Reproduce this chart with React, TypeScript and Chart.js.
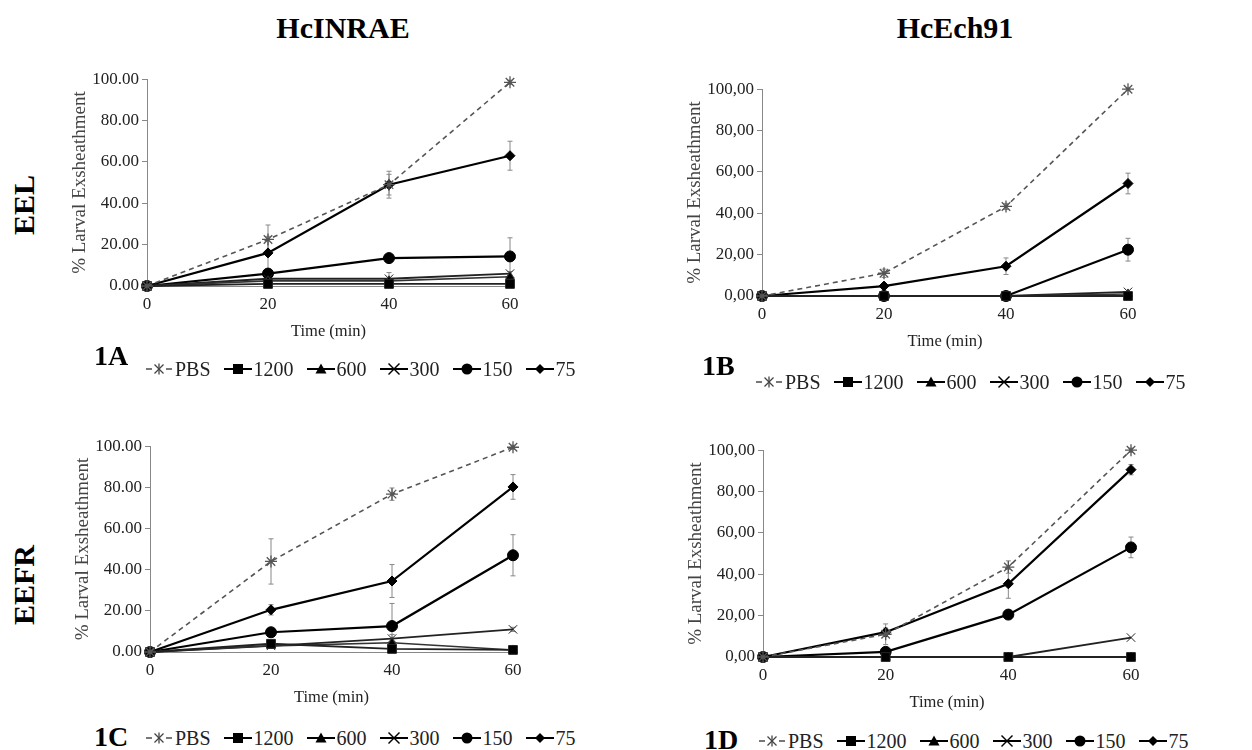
import React, { useEffect, useRef } from "react";
import { Chart, registerables } from "chart.js";

Chart.register(...registerables);

// ---------- data ----------
const TIMES = [0, 20, 40, 60];
const SERIES_NAMES = ["PBS", "1200", "600", "300", "150", "75"];
const X_TICK_STEP = 20;
const Y_TICK_STEP = 20;

// 1A  HcINRAE / EEL
const A_PBS = [0, 22.5, 49, 98.5];
const A_1200 = [0, 1, 1, 1];
const A_600 = [0, 2.5, 2.5, 4.5];
const A_300 = [0, 3.5, 3.5, 6];
const A_150 = [0, 6, 13.5, 14.3];
const A_75 = [0, 16, 49, 63];
const A_ERR_PBS = [1.5, 7, 6.5, 1];
const A_ERR_300 = [0, 1, 3, 1];
const A_ERR_150 = [0, 2, 1, 9];
const A_ERR_75 = [0, 8, 5, 7];

// 1B  HcEch91 / EEL
const B_PBS = [0, 11, 43.3, 100];
const B_1200 = [0, 0, 0, 0];
const B_600 = [0, 0, 0, 1];
const B_300 = [0, 0, 0, 2];
const B_150 = [0, 0, 0, 22.4];
const B_75 = [0, 4.8, 14.4, 54.4];
const B_ERR_PBS = [0, 2, 1.5, 0.5];
const B_ERR_150 = [0, 0, 0, 5.5];
const B_ERR_75 = [0, 1, 4, 5];

// 1C  HcINRAE / EEFR
const C_PBS = [0, 44, 76.7, 99.5];
const C_1200 = [0, 4, 1.5, 1];
const C_600 = [0, 3, 4.5, 1];
const C_300 = [0, 3, 6.5, 11];
const C_150 = [0, 9.6, 12.6, 47];
const C_75 = [0, 20.5, 34.5, 80.2];
const C_ERR_PBS = [1.5, 11, 3, 1];
const C_ERR_300 = [0, 1, 2, 1];
const C_ERR_150 = [0, 1, 11, 10];
const C_ERR_75 = [0, 2.5, 8, 6];

// 1D  HcEch91 / EEFR
const D_PBS = [0, 11, 43.5, 100];
const D_1200 = [0, 0, 0, 0];
const D_600 = [0, 0, 0, 0];
const D_300 = [0, 0, 0, 9.4];
const D_150 = [0, 2.5, 20.5, 53];
const D_75 = [0, 12, 35.4, 90.6];
const D_ERR_PBS = [0, 5, 3, 1];
const D_ERR_150 = [0, 1, 1, 5];
const D_ERR_75 = [0, 2, 7, 2.5];

const NONE = [0, 0, 0, 0];

// ---------- styles ----------
const FONT = "'Liberation Serif', 'Times New Roman', serif";

type St = { color: string; width: number; dash: number[]; point: any; radius: number; fill: string };
const STYLES: St[] = [
  { color: "#555", width: 1.6, dash: [5, 4], point: "star", radius: 6, fill: "#555" },
  { color: "#222", width: 1.8, dash: [], point: "rect", radius: 6.2, fill: "#000" },
  { color: "#333", width: 1.6, dash: [], point: "triangle", radius: 5, fill: "#000" },
  { color: "#222", width: 1.8, dash: [], point: "crossRot", radius: 6, fill: "#000" },
  { color: "#000", width: 2.2, dash: [], point: "circle", radius: 5.5, fill: "#000" },
  { color: "#000", width: 2.2, dash: [], point: "rectRot", radius: 5, fill: "#000" },
];

const errorBarsPlugin = {
  id: "errorBars",
  beforeDatasetsDraw(chart: any) {
    const { ctx } = chart;
    const yScale = chart.scales.y;
    ctx.save();
    ctx.strokeStyle = "#888";
    ctx.lineWidth = 1;
    chart.data.datasets.forEach((ds: any, i: number) => {
      const err: number[] | undefined = ds.errors;
      if (!err) return;
      const meta = chart.getDatasetMeta(i);
      meta.data.forEach((pt: any, j: number) => {
        const e = err[j];
        if (!e) return;
        const v = ds.data[j].y;
        const x = pt.x;
        const yt = yScale.getPixelForValue(v + e);
        const yb = yScale.getPixelForValue(v - e);
        ctx.beginPath();
        ctx.moveTo(x, yt);
        ctx.lineTo(x, yb);
        ctx.moveTo(x - 2.5, yt);
        ctx.lineTo(x + 2.5, yt);
        ctx.moveTo(x - 2.5, yb);
        ctx.lineTo(x + 2.5, yb);
        ctx.stroke();
      });
    });
    ctx.restore();
  },
};

type PanelProps = {
  left: number;
  top: number;
  width: number;
  height: number;
  values: number[][];
  errors: number[][];
  comma: boolean;
};

function Panel({ left, top, width, height, values, errors, comma }: PanelProps) {
  const ref = useRef<HTMLCanvasElement | null>(null);
  useEffect(() => {
    if (!ref.current) return;
    const datasets = SERIES_NAMES.map((name, i) => ({
      label: name,
      data: TIMES.map((t, j) => ({ x: t, y: values[i][j] })),
      borderColor: STYLES[i].color,
      borderWidth: STYLES[i].width,
      borderDash: STYLES[i].dash,
      pointStyle: STYLES[i].point,
      pointRadius: STYLES[i].radius,
      pointBackgroundColor: STYLES[i].fill,
      pointBorderColor: STYLES[i].color,
      pointBorderWidth: i === 0 ? 1.3 : 1,
      tension: 0,
      clip: false,
      errors: errors[i],
    }));
    const chart = new Chart(ref.current, {
      type: "line",
      data: { datasets } as any,
      plugins: [errorBarsPlugin],
      options: {
        animation: false,
        responsive: false,
        maintainAspectRatio: false,
        devicePixelRatio: 1,
        layout: { padding: { top: 10, right: 20, left: 0, bottom: 0 } },
        plugins: { legend: { display: false }, tooltip: { enabled: false } },
        scales: {
          x: {
            type: "linear",
            min: 0,
            max: 60,
            ticks: { stepSize: X_TICK_STEP, font: { size: 17, family: FONT }, color: "#222", padding: 8 },
            grid: { display: true, drawOnChartArea: false, drawTicks: false, color: "#888" },
            border: { display: true, color: "#888", width: 1 },
            title: {
              display: true,
              text: "Time (min)",
              font: { size: 16.5, family: FONT },
              color: "#222",
              padding: { top: 4, bottom: 4 },
            },
            afterFit: (s: any) => {
              s.height = 60;
            },
          },
          y: {
            min: 0,
            max: 100,
            ticks: {
              stepSize: Y_TICK_STEP,
              font: { size: 17, family: FONT },
              color: "#222",
              padding: 3,
              callback: (v: any) => {
                const s = Number(v).toFixed(2);
                return comma ? s.replace(".", ",") : s;
              },
            },
            grid: { display: true, drawOnChartArea: false, drawTicks: true, tickLength: 5, color: "#888" },
            border: { display: true, color: "#888", width: 1 },
            title: {
              display: true,
              text: "% Larval Exsheathment",
              font: { size: 19, family: FONT },
              color: "#444",
              padding: { top: 4, bottom: 4 },
            },
            afterFit: (s: any) => {
              s.width = 82;
            },
          },
        },
      } as any,
    });
    return () => chart.destroy();
  }, []);
  return (
    <canvas
      ref={ref}
      width={width}
      height={height}
      style={{ position: "absolute", left, top, width, height }}
    />
  );
}

function Symbol({ index }: { index: number }) {
  const c = 14;
  const m = 9;
  if (index === 0) {
    return (
      <svg width={28} height={18} style={{ display: "block" }}>
        <line x1={1} y1={m} x2={7} y2={m} stroke="#555" strokeWidth={1.6} />
        <line x1={21} y1={m} x2={27} y2={m} stroke="#555" strokeWidth={1.6} />
        <line x1={c - 4.5} y1={m - 4.5} x2={c + 4.5} y2={m + 4.5} stroke="#444" strokeWidth={1.3} />
        <line x1={c - 4.5} y1={m + 4.5} x2={c + 4.5} y2={m - 4.5} stroke="#444" strokeWidth={1.3} />
        <line x1={c} y1={m - 5.5} x2={c} y2={m + 5.5} stroke="#444" strokeWidth={1.3} />
      </svg>
    );
  }
  let marker: any = null;
  if (index === 1) marker = <rect x={c - 5} y={m - 5} width={10} height={10} fill="#000" />;
  if (index === 2)
    marker = <polygon points={`${c},${m - 5.5} ${c + 5.5},${m + 4.5} ${c - 5.5},${m + 4.5}`} fill="#000" />;
  if (index === 3)
    marker = (
      <g stroke="#000" strokeWidth={1.4}>
        <line x1={c - 5.5} y1={m - 5.5} x2={c + 5.5} y2={m + 5.5} />
        <line x1={c - 5.5} y1={m + 5.5} x2={c + 5.5} y2={m - 5.5} />
      </g>
    );
  if (index === 4) marker = <circle cx={c} cy={m} r={5.5} fill="#000" />;
  if (index === 5)
    marker = <polygon points={`${c},${m - 5} ${c + 5},${m} ${c},${m + 5} ${c - 5},${m}`} fill="#000" />;
  return (
    <svg width={28} height={18} style={{ display: "block" }}>
      <line x1={0} y1={m} x2={28} y2={m} stroke="#000" strokeWidth={2} />
      {marker}
    </svg>
  );
}

function Legend({ left, cy }: { left: number; cy: number }) {
  return (
    <div
      style={{
        position: "absolute",
        left,
        top: cy,
        transform: "translateY(-50%)",
        display: "flex",
        alignItems: "center",
        fontFamily: FONT,
        fontSize: 20,
        color: "#222",
        whiteSpace: "nowrap",
        lineHeight: 1,
      }}
    >
      {SERIES_NAMES.map((n, i) => (
        <div key={n} style={{ display: "flex", alignItems: "center", marginRight: 13 }}>
          <Symbol index={i} />
          <span style={{ marginLeft: 2 }}>{n}</span>
        </div>
      ))}
    </div>
  );
}

function Label({
  text,
  x,
  y,
  size,
  rotate,
  anchorLeft,
}: {
  text: string;
  x: number;
  y: number;
  size: number;
  rotate?: boolean;
  anchorLeft?: boolean;
}) {
  return (
    <div
      style={{
        position: "absolute",
        left: x,
        top: y,
        transform: `translate(${anchorLeft ? "0" : "-50%"}, -50%)${rotate ? " rotate(-90deg)" : ""}`,
        fontFamily: FONT,
        fontWeight: "bold",
        fontSize: size,
        lineHeight: 1,
        whiteSpace: "nowrap",
        color: "#000",
      }}
    >
      {text}
    </div>
  );
}

export default function App() {
  return (
    <div style={{ position: "absolute", left: 0, top: 0, width: 1252, height: 750, background: "#fff", overflow: "hidden" }}>
      <Label text="HcINRAE" x={343} y={28} size={30} />
      <Label text="HcEch91" x={955} y={28} size={30} />
      <Label text="EEL" x={24} y={205} size={30} rotate />
      <Label text="EEFR" x={24} y={585} size={30} rotate />

      <Panel
        left={65}
        top={66}
        width={465}
        height={280}
        values={[A_PBS, A_1200, A_600, A_300, A_150, A_75]}
        errors={[A_ERR_PBS, NONE, NONE, A_ERR_300, A_ERR_150, A_ERR_75]}
        comma={false}
      />
      <Panel
        left={680}
        top={76}
        width={468}
        height={280}
        values={[B_PBS, B_1200, B_600, B_300, B_150, B_75]}
        errors={[B_ERR_PBS, NONE, NONE, NONE, B_ERR_150, B_ERR_75]}
        comma={true}
      />
      <Panel
        left={68}
        top={433}
        width={465}
        height={279}
        values={[C_PBS, C_1200, C_600, C_300, C_150, C_75]}
        errors={[C_ERR_PBS, NONE, NONE, C_ERR_300, C_ERR_150, C_ERR_75]}
        comma={false}
      />
      <Panel
        left={681}
        top={437}
        width={470}
        height={280}
        values={[D_PBS, D_1200, D_600, D_300, D_150, D_75]}
        errors={[D_ERR_PBS, NONE, NONE, NONE, D_ERR_150, D_ERR_75]}
        comma={true}
      />

      <Label text="1A" x={94} y={356} size={28} anchorLeft />
      <Label text="1B" x={702} y={366} size={28} anchorLeft />
      <Label text="1C" x={94} y={737} size={28} anchorLeft />
      <Label text="1D" x={704} y={740} size={28} anchorLeft />

      <Legend left={145} cy={369} />
      <Legend left={755} cy={382} />
      <Legend left={145} cy={738} />
      <Legend left={758} cy={741} />
    </div>
  );
}
